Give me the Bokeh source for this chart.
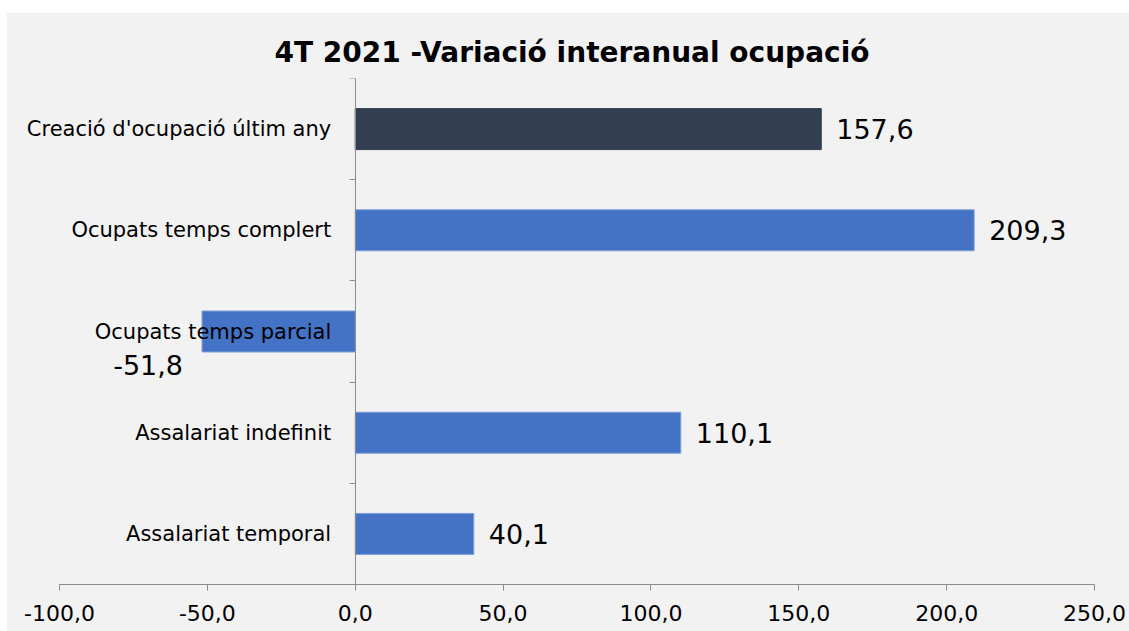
from bokeh.plotting import figure
from bokeh.models import ColumnDataSource, FixedTicker, LabelSet, Spacer
from bokeh.layouts import column, row
from bokeh.core.properties import value
from bokeh.embed import file_html
from bokeh.resources import INLINE

# ---- data ----
title_text = "4T 2021 -Variació interanual ocupació"
categories = [
    "Creació d'ocupació últim any",
    "Ocupats temps complert",
    "Ocupats temps parcial",
    "Assalariat indefinit",
    "Assalariat temporal",
]
values = [157.6, 209.3, -51.8, 110.1, 40.1]
bar_colors = ["#333f50", "#4472c4", "#4472c4", "#4472c4", "#4472c4"]
x_ticks = [-100, -50, 0, 50, 100, 150, 200, 250]

FONT = "DejaVu Sans"
BG = "#f2f2f2"
AXIS = "#8c8c8c"

def fmt(v):
    return f"{v:.1f}".replace(".", ",")

n = len(categories)
ypos = [n - i - 0.5 for i in range(n)]
labels = [fmt(v) for v in values]
x_off = [15 if v >= 0 else -19 for v in values]
y_off = [0 if v >= 0 else 33 for v in values]
align = ["left" if v >= 0 else "right" for v in values]

src = ColumnDataSource(dict(y=ypos, v=values, c=bar_colors, lab=labels,
                            xo=x_off, yo=y_off, al=align,
                            lc=["#333f50"] + ["#7f9fd8"] * (n - 1)))
cat_src = ColumnDataSource(dict(x=[0] * n, y=ypos, name=categories))

# layout geometry: the plotting frame is widened to the left edge of the chart
# so that the category labels (drawn at x = 0) are not clipped; the x axis
# itself is bounded to the tick span.
W, H = 1122, 618
AXIS_W = 1035            # pixel width of the tick span
LEFT_PAD = 52            # pixels left of the first tick
RIGHT = 35
span = x_ticks[-1] - x_ticks[0]
x_start = x_ticks[0] - LEFT_PAD * span / AXIS_W

p = figure(width=W, height=H, x_range=(x_start, x_ticks[-1]), y_range=(0, n),
           output_backend="svg", toolbar_location=None,
           min_border_left=0, min_border_right=RIGHT, min_border_top=65,
           min_border_bottom=47)

p.hbar(y="y", left=0, right="v", height=0.405, fill_color="c", line_color="lc",
       line_width=1, source=src)

p.text(x="v", y="y", text="lab", x_offset="xo", y_offset="yo", text_align="al",
       text_baseline="middle", text_font=value(FONT), text_font_size="27px",
       text_color="#000000", source=src)

# title
p.title.text = title_text
p.title.align = "left"
p.title.offset = 267
p.title.text_font = FONT
p.title.text_font_size = "28px"
p.title.text_font_style = "bold"
p.title.text_color = "#000000"
p.title.standoff = 20

# backgrounds
p.background_fill_color = BG
p.border_fill_color = BG
p.outline_line_color = None
p.xgrid.grid_line_color = None
p.ygrid.grid_line_color = None

# x axis
xa = p.xaxis[0]
xa.ticker = FixedTicker(ticks=x_ticks)
xa.bounds = (x_ticks[0], x_ticks[-1])
xa.major_label_overrides = {t: fmt(t) for t in x_ticks}
xa.minor_tick_line_color = None
xa.major_tick_in = 0
xa.major_tick_out = 6
xa.axis_line_color = AXIS
xa.major_tick_line_color = AXIS
xa.major_label_text_font = FONT
xa.major_label_text_font_size = "22px"
xa.major_label_text_color = "#000000"
xa.major_label_standoff = 14

# y axis at x = 0
ya = p.yaxis[0]
ya.fixed_location = 0
ya.ticker = FixedTicker(ticks=ypos, minor_ticks=list(range(n + 1)))
ya.major_label_overrides = {y: "" for y in ypos}
ya.major_tick_in = 0
ya.major_tick_out = 0
ya.minor_tick_in = 0
ya.minor_tick_out = 6
ya.minor_tick_line_color = AXIS
ya.axis_line_color = AXIS

cat_labels = LabelSet(x="x", y="y", text="name", source=cat_src, x_offset=-24,
                      text_align="right", text_baseline="middle",
                      text_font=value(FONT), text_font_size="21px",
                      text_color="#000000")
p.add_layout(cat_labels)

chart = column(p, styles={"background-color": BG})
layout = column(Spacer(height=13, width=10),
                row(Spacer(width=7, height=10), chart))
open("out.html", "w").write(file_html(layout, INLINE))
